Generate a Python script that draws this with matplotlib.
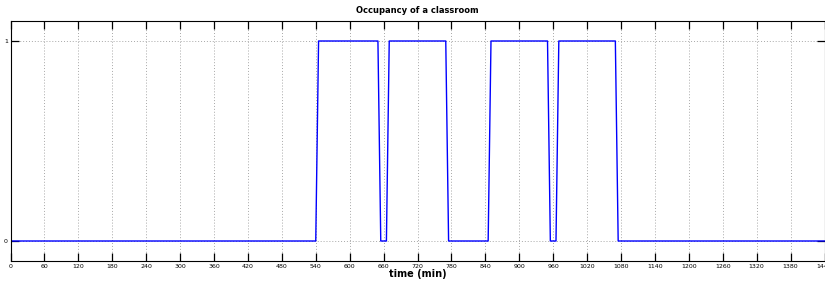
import matplotlib
matplotlib.use("Agg")
import matplotlib.pyplot as plt
import numpy as np

# occupancy samples (time in minutes, state 0/1)
t_min = [0, 540, 545, 650, 655, 665, 670, 770, 775, 845, 850, 950, 955, 965, 970, 1070, 1075, 1440]
occupied = [0, 0, 1, 1, 0, 0, 1, 1, 0, 0, 1, 1, 0, 0, 1, 1, 0, 0]
x_ticks = list(range(0, 1441, 60))
y_ticks = [0, 1]

fig = plt.figure(figsize=(8.25, 2.82), dpi=100)
ax = fig.add_axes([10.5 / 825, 1 - 261 / 282, 814 / 825, 240 / 282])

ax.plot(t_min, occupied, color=(0, 0, 1), linewidth=1.0)

ax.set_xlim(0, 1440)
ax.set_ylim(-0.1, 1.1)
ax.set_xticks(x_ticks)
ax.set_yticks(y_ticks)
ax.tick_params(direction="in", length=6, width=0.9, labelsize=4.5, pad=2,
               top=True, right=True, colors="black")
ax.grid(True, linestyle=(0, (1, 2)), color="#a8a8a8", linewidth=0.7)
for s in ax.spines.values():
    s.set_linewidth(0.8)

ax.set_title("Occupancy of a classroom", fontsize=6, fontweight="bold", pad=6)
ax.set_xlabel("time (min)", fontsize=7, fontweight="bold", labelpad=0)

fig.savefig("out.png", dpi=100)
